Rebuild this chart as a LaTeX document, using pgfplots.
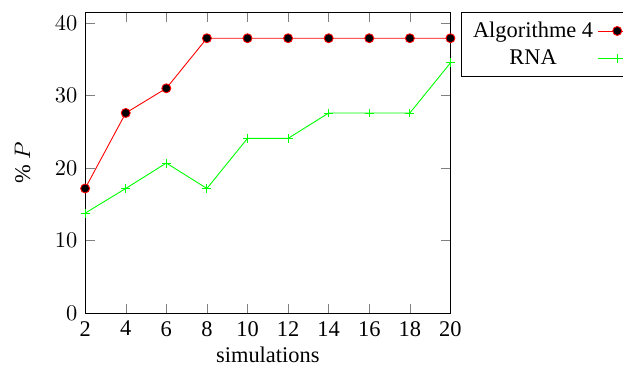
\documentclass[border=0pt]{standalone}
\usepackage{fontspec}
\setmainfont{Liberation Serif}
\usepackage{pgfplots}
\pgfplotsset{compat=1.18}
\begin{document}
\begin{tikzpicture}
\begin{axis}[
  name=ax,
  scale only axis,
  width=163pt, height=134.4pt,
  xmin=2, xmax=20, ymin=0, ymax=41.5,
  xtick={2,4,...,20},
  ytick={0,10,20,30,40},
  xticklabel style={/pgf/number format/assume math mode=true},
  xlabel={simulations},
  xlabel style={yshift=2pt},
  ylabel={$\%\ P$},
  ylabel style={yshift=4pt},
  legend pos=outer north east,
  legend plot pos=right,
  legend cell align=center,
]
\addplot[red, mark=*, mark options={fill=black, draw=red}] coordinates {
(2,17.2) (4,27.6) (6,31.0) (8,37.9) (10,37.9) (12,37.9) (14,37.9) (16,37.9) (18,37.9) (20,37.9)};
\addlegendentry{Algorithme 4}
\addplot[green, mark=+] coordinates {
(2,13.8) (4,17.2) (6,20.7) (8,17.2) (10,24.1) (12,24.1) (14,27.6) (16,27.6) (18,27.6) (20,34.5)};
\addlegendentry{RNA}
\end{axis}
\pgfresetboundingbox
\path[use as bounding box] ([xshift=-38pt,yshift=-23.7pt]ax.south west) rectangle ([xshift=77pt,yshift=5.4pt]ax.north east);
\end{tikzpicture}
\end{document}
